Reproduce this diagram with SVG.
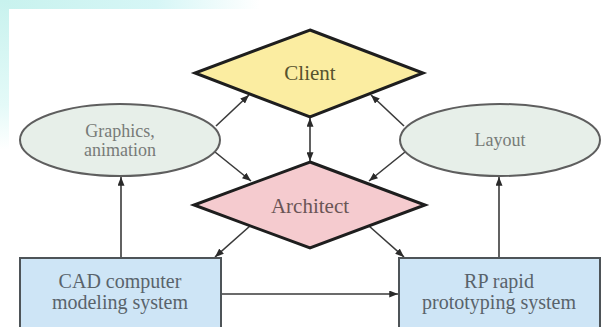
<svg xmlns="http://www.w3.org/2000/svg" width="608" height="327" viewBox="0 0 608 327">
<style>
.dia{stroke:#1e1e1e;stroke-width:3;stroke-linejoin:miter}
.ell{fill:#e7efe9;stroke:#5e5e5e;stroke-width:2}
.box{fill:#cee5f6;stroke:#4e5458;stroke-width:2}
.t{font-family:"Liberation Serif","Times New Roman",serif;text-anchor:middle}
.conn line{stroke:#3a3a3a;stroke-width:1.6;fill:none;marker-end:url(#ah)}
</style>
<defs>
<marker id="ah" viewBox="0 0 10 8" refX="10" refY="4" markerWidth="9" markerHeight="7" markerUnits="userSpaceOnUse" orient="auto-start-reverse">
<path d="M0,0 L10,4 L0,8 z" fill="#2a2a2a"/>
</marker>
<linearGradient id="topband" x1="0" y1="0" x2="1" y2="0">
<stop offset="0" stop-color="#c8f2ee"/>
<stop offset="0.6" stop-color="#d6f6f6"/>
<stop offset="1" stop-color="#ffffff"/>
</linearGradient>
<linearGradient id="leftband" x1="0" y1="0" x2="0" y2="1">
<stop offset="0" stop-color="#c8f2ee"/>
<stop offset="0.7" stop-color="#e4faf8"/>
<stop offset="1" stop-color="#ffffff"/>
</linearGradient>
</defs>
<rect x="0" y="0" width="608" height="327" fill="#ffffff"/>
<rect x="0" y="0" width="260" height="9" fill="url(#topband)"/>
<rect x="0" y="0" width="9" height="150" fill="url(#leftband)"/>

<g id="connectors" class="conn">
<line x1="216" y1="126" x2="249" y2="95"/>
<line x1="404" y1="126" x2="371" y2="95"/>
<line x1="310" y1="118" x2="310" y2="161" style="marker-start:url(#ah)"/>
<line x1="215" y1="152" x2="251" y2="181"/>
<line x1="405" y1="152" x2="369" y2="181"/>
<line x1="250" y1="226" x2="215" y2="257"/>
<line x1="369" y1="226" x2="404" y2="257"/>
<line x1="121" y1="258" x2="121" y2="177"/>
<line x1="499" y1="258" x2="499" y2="177"/>
<line x1="221" y1="294" x2="398" y2="294"/>
</g>

<g id="client">
<polygon class="dia" points="310,30 423,73 310,117 195,73" fill="#fbeda1"/>
<text class="t" x="310" y="80" font-size="21" fill="#57532e">Client</text>
</g>

<g id="architect">
<polygon class="dia" points="310,162 425,205 310,248 194,205" fill="#f5cbcf"/>
<text class="t" x="310" y="213" font-size="21" fill="#6a5556">Architect</text>
</g>

<g id="graphics">
<ellipse class="ell" cx="120" cy="140" rx="100" ry="36"/>
<text class="t" x="120" y="137" font-size="18" fill="#777b78">Graphics,</text>
<text class="t" x="120" y="156" font-size="18" fill="#777b78">animation</text>
</g>

<g id="layout">
<ellipse class="ell" cx="500" cy="140" rx="100" ry="36"/>
<text class="t" x="500" y="146" font-size="18" fill="#777b78">Layout</text>
</g>

<g id="cad">
<rect class="box" x="20" y="258" width="201" height="80"/>
<text class="t" x="120" y="288" font-size="20" fill="#59636b">CAD computer</text>
<text class="t" x="120" y="309" font-size="20" fill="#59636b">modeling system</text>
</g>

<g id="rp">
<rect class="box" x="399" y="258" width="201" height="80"/>
<text class="t" x="499" y="288" font-size="20" fill="#59636b">RP rapid</text>
<text class="t" x="499" y="309" font-size="20" fill="#59636b">prototyping system</text>
</g>
</svg>
